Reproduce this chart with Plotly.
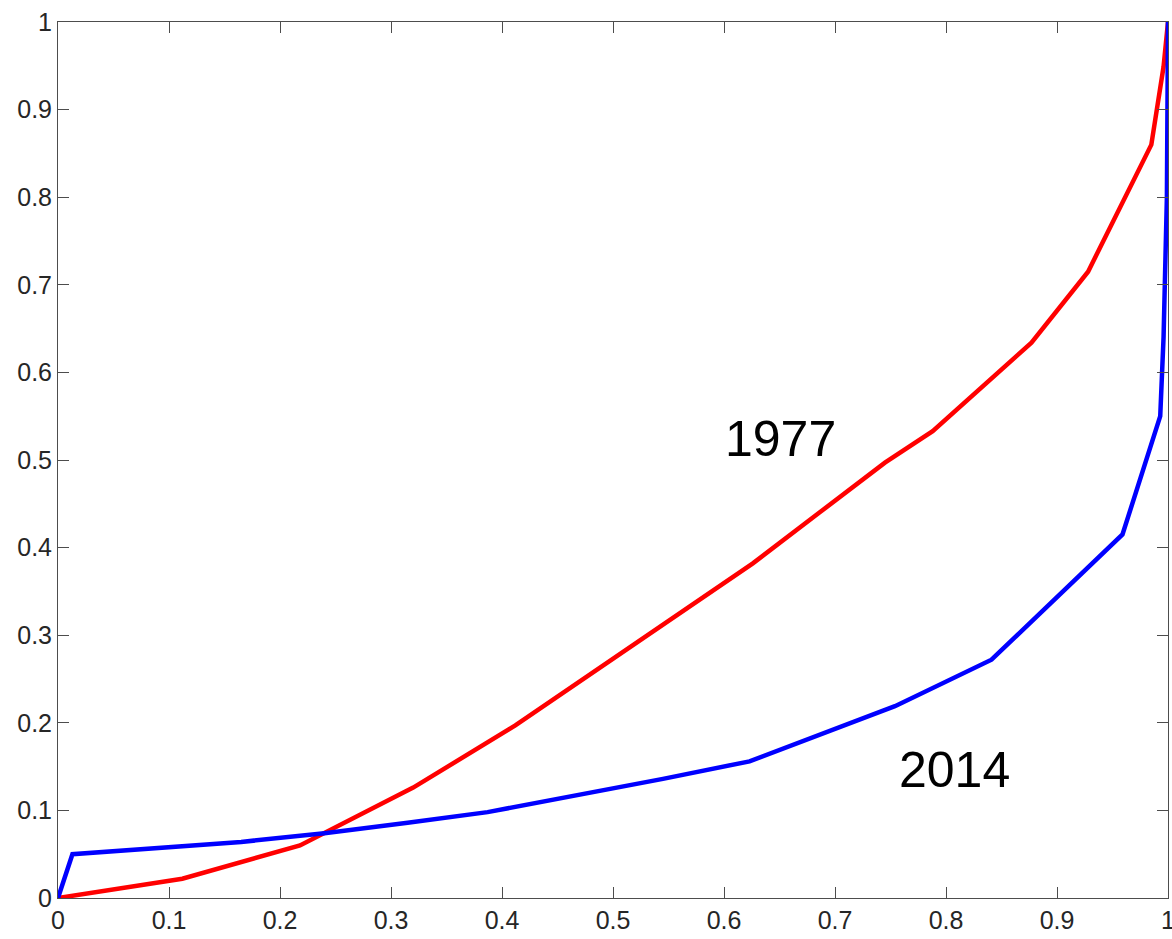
import plotly.graph_objects as go

# Cumulative share curves
x_1977 = [0.0, 0.112, 0.218, 0.320, 0.412, 0.626, 0.686, 0.745, 0.788, 0.877, 0.928, 0.985, 0.996, 1.0]
y_1977 = [0.0, 0.022, 0.060, 0.126, 0.197, 0.382, 0.440, 0.497, 0.533, 0.634, 0.715, 0.860, 0.949, 1.0]

x_2014 = [0.0, 0.013, 0.165, 0.240, 0.315, 0.387, 0.545, 0.623, 0.754, 0.841, 0.959, 0.993, 0.996, 0.999, 1.0]
y_2014 = [0.0, 0.050, 0.064, 0.074, 0.086, 0.098, 0.136, 0.156, 0.219, 0.272, 0.415, 0.550, 0.640, 0.800, 1.0]

tick_vals = [0, 0.1, 0.2, 0.3, 0.4, 0.5, 0.6, 0.7, 0.8, 0.9, 1]
tick_text = ["0", "0.1", "0.2", "0.3", "0.4", "0.5", "0.6", "0.7", "0.8", "0.9", "1"]

labels = ["1977", "2014"]
label_x = [0.651, 0.808]
label_y = [0.524, 0.146]

fig = go.Figure()
fig.add_trace(go.Scatter(x=x_1977, y=y_1977, mode="lines",
                         line=dict(color="#ff0000", width=4.5), showlegend=False))
fig.add_trace(go.Scatter(x=x_2014, y=y_2014, mode="lines",
                         line=dict(color="#0000ff", width=4.5), showlegend=False))

for txt, lx, ly in zip(labels, label_x, label_y):
    fig.add_annotation(x=lx, y=ly, text=txt, showarrow=False,
                       xanchor="center", yanchor="middle",
                       font=dict(family="Liberation Sans, Arial, sans-serif", size=50, color="#000000"))

axis_common = dict(
    range=[0, 1],
    tickmode="array",
    tickvals=tick_vals,
    ticktext=tick_text,
    ticks="inside",
    ticklen=11,
    tickwidth=1,
    tickcolor="#4d4d4d",
    showline=True,
    linecolor="#4d4d4d",
    linewidth=1,
    mirror="ticks",
    showgrid=False,
    zeroline=False,
    automargin=False,
    ticklabeloverflow="allow",
    tickfont=dict(family="Liberation Sans, Arial, sans-serif", size=25, color="#262626"),
)

fig.update_xaxes(**axis_common)
fig.update_yaxes(**axis_common)

fig.update_layout(
    width=1172,
    height=939,
    margin=dict(l=58, r=4, t=22, b=41),
    paper_bgcolor="white",
    plot_bgcolor="white",
)

fig.write_html("out.html")
